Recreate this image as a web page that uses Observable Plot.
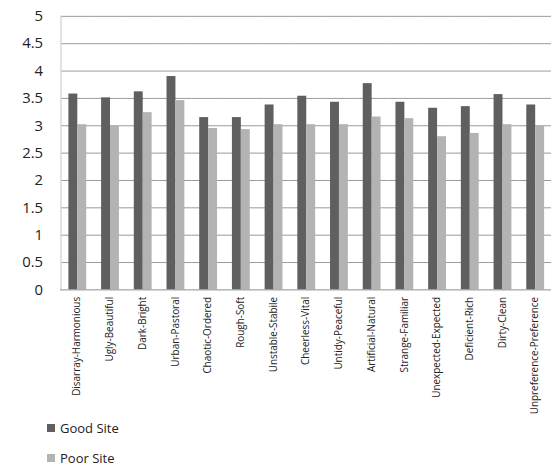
<!DOCTYPE html>
<html><head><meta charset="utf-8">
<script src="https://cdn.jsdelivr.net/npm/d3@7"></script>
<script src="https://cdn.jsdelivr.net/npm/@observablehq/plot@0.6"></script>
<style>
html,body{margin:0;background:#fff;font-family:"Open Sans","Liberation Sans",Arial,sans-serif;overflow:hidden;}
#wrap{position:relative;width:557px;height:466px;overflow:hidden;}
.leg{position:absolute;left:47px;font-size:13px;color:#222;display:flex;align-items:center;}
.sw{width:8px;height:8px;margin-right:5px;display:inline-block;}
</style>
</head><body>
<div id="wrap"><div id="chart"></div><div id="legend"></div></div>
<script>
const categories = ["Disarray-Harmonious","Ugly-Beautiful","Dark-Bright","Urban-Pastoral","Chaotic-Ordered","Rough-Soft","Unstable-Stabile","Cheerless-Vital","Untidy-Peaceful","Artificial-Natural","Strange-Familiar","Unexpected-Expected","Deficient-Rich","Dirty-Clean","Unpreference-Preference"];
const goodSite = [3.58,3.51,3.62,3.90,3.15,3.15,3.38,3.54,3.43,3.77,3.43,3.32,3.35,3.57,3.38];
const poorSite = [3.02,2.99,3.24,3.46,2.95,2.93,3.02,3.02,3.02,3.16,3.13,2.80,2.86,3.02,2.99];
const seriesNames = ["Good Site","Poor Site"];
const seriesColors = ["#5f5f5f","#b3b3b3"];
const yTicks = [0,0.5,1,1.5,2,2.5,3,3.5,4,4.5,5];

const data = categories.flatMap((c,i)=>[
  {category:c, series:seriesNames[0], value:goodSite[i]},
  {category:c, series:seriesNames[1], value:poorSite[i]}
]);

const plot = Plot.plot({
  width:562, height:418,
  marginTop:16, marginBottom:126, marginLeft:55, marginRight:0,
  style:{fontFamily:'"Open Sans","Liberation Sans",Arial,sans-serif', background:"#fff", color:"#222", overflow:"hidden"},
  fx:{domain:categories, padding:0},
  x:{domain:seriesNames, paddingInner:0, paddingOuter:0.68},
  y:{domain:[0,5]},
  color:{domain:seriesNames, range:seriesColors},
  marks:[
    Plot.ruleY(yTicks.filter(d=>d>0), {stroke:"#999", strokeWidth:1}),
    Plot.frame({anchor:"left", stroke:"#d9d9d9", strokeWidth:1.5, facetAnchor:"left"}),
    Plot.barY(data, {fx:"category", x:"series", y:"value", fill:"series"}),
    Plot.ruleY([0], {stroke:"#8c8c8c", strokeWidth:1}),
    Plot.axisY({ticks:yTicks, tickFormat:d=>String(d), tickSize:0, tickPadding:18, fontSize:15, label:null}),
    Plot.axisFx({anchor:"bottom", tickRotate:-90, tickSize:0, tickPadding:7, fontSize:10, label:null}),
    Plot.axisX({ticks:[], label:null})
  ]
});
document.getElementById("chart").appendChild(plot);

const leg = document.getElementById("legend");
seriesNames.forEach((s,i)=>{
  const d = document.createElement("div");
  d.className = "leg";
  d.style.top = (419 + i*30) + "px";
  d.innerHTML = `<span class="sw" style="background:${seriesColors[i]}"></span><span>${s}</span>`;
  leg.appendChild(d);
});
</script>
</body></html>
